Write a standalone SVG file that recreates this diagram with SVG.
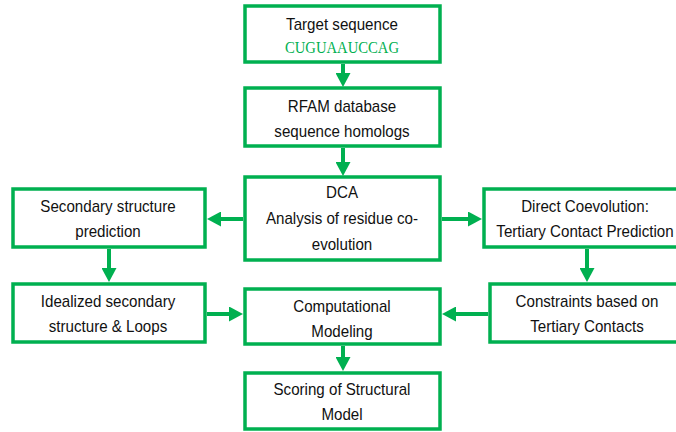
<svg xmlns="http://www.w3.org/2000/svg" width="676" height="432" viewBox="0 0 676 432">
<style>
.box{fill:#fff;stroke:#00B050;stroke-width:3.5}
.t{font-family:"Liberation Sans",Arial,sans-serif;font-size:17px;fill:#111;text-anchor:middle}
.seq{font-family:"Liberation Serif","Times New Roman",serif;font-size:16px;fill:#00B050;text-anchor:middle}
.c line{stroke:#00B050;stroke-width:4;marker-end:url(#ah)}
</style>
<defs>
<marker id="ah" markerUnits="userSpaceOnUse" markerWidth="14" markerHeight="15" refX="0" refY="7.5" orient="auto">
<path d="M0,0 L14,7.5 L0,15 z" fill="#00B050"/>
</marker>
</defs>
<rect width="676" height="432" fill="#fff"/>
<g class="c" id="connectors">
<line x1="343" y1="64" x2="343" y2="73"/>
<line x1="343" y1="148" x2="343" y2="162"/>
<line x1="243" y1="219" x2="221" y2="219"/>
<line x1="442" y1="219" x2="468" y2="219"/>
<line x1="109" y1="249" x2="109" y2="268"/>
<line x1="587" y1="249" x2="587" y2="268"/>
<line x1="207" y1="314" x2="229" y2="314"/>
<line x1="488" y1="314" x2="456" y2="314"/>
<line x1="343" y1="346" x2="343" y2="357"/>
</g>
<g id="target"><rect class="box" x="245" y="6" width="195" height="56"/>
<g transform="translate(342 0) scale(0.89 1)"><text class="t" x="0" y="30">Target sequence</text></g>
<text class="seq" x="342" y="53" textLength="114" lengthAdjust="spacingAndGlyphs">CUGUAAUCCAG</text></g>
<g id="rfam"><rect class="box" x="245" y="88" width="195" height="58"/>
<g transform="translate(342 0) scale(0.89 1)"><text class="t" x="0" y="112">RFAM database</text>
<text class="t" x="0" y="137">sequence homologs</text></g></g>
<g id="dca"><rect class="box" x="245" y="177" width="195" height="83"/>
<g transform="translate(342 0) scale(0.89 1)"><text class="t" x="0" y="198">DCA</text>
<text class="t" x="0" y="224">Analysis of residue co-</text>
<text class="t" x="0" y="250">evolution</text></g></g>
<g id="secondary"><rect class="box" x="13" y="189" width="192" height="58"/>
<g transform="translate(108 0) scale(0.89 1)"><text class="t" x="0" y="212">Secondary structure</text>
<text class="t" x="0" y="237">prediction</text></g></g>
<g id="direct"><rect class="box" x="484" y="189" width="200" height="58"/>
<g transform="translate(585 0) scale(0.89 1)"><text class="t" x="0" y="212">Direct Coevolution:</text>
<text class="t" x="0" y="237">Tertiary Contact Prediction</text></g></g>
<g id="idealized"><rect class="box" x="13" y="284" width="192" height="58"/>
<g transform="translate(108 0) scale(0.89 1)"><text class="t" x="0" y="307">Idealized secondary</text>
<text class="t" x="0" y="332">structure &amp; Loops</text></g></g>
<g id="computational"><rect class="box" x="245" y="289" width="195" height="55"/>
<g transform="translate(342 0) scale(0.89 1)"><text class="t" x="0" y="312">Computational</text>
<text class="t" x="0" y="337">Modeling</text></g></g>
<g id="constraints"><rect class="box" x="490" y="284" width="200" height="58"/>
<g transform="translate(587 0) scale(0.89 1)"><text class="t" x="0" y="307">Constraints based on</text>
<text class="t" x="0" y="332">Tertiary Contacts</text></g></g>
<g id="scoring"><rect class="box" x="245" y="373" width="195" height="56"/>
<g transform="translate(342 0) scale(0.89 1)"><text class="t" x="0" y="395">Scoring of Structural</text>
<text class="t" x="0" y="420">Model</text></g></g>
</svg>
